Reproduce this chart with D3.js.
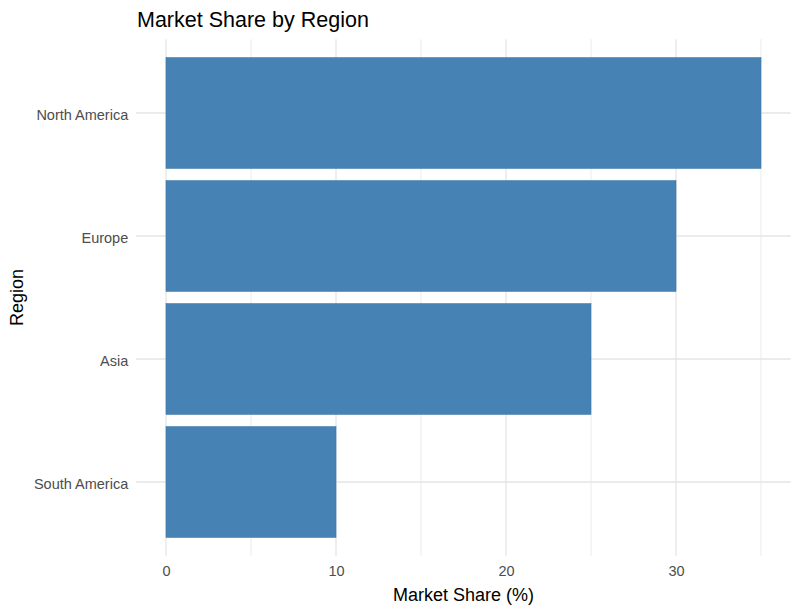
<!DOCTYPE html>
<html><head><meta charset="utf-8">
<script src="https://cdn.jsdelivr.net/npm/d3@7"></script>
<style>body{margin:0;background:#fff;font-family:"Liberation Sans",Arial,sans-serif;}</style>
</head><body><svg id="c" width="800" height="613"></svg>
<script>
const regions = ["North America", "Europe", "Asia", "South America"];
const shares = [35, 30, 25, 10];
const xTicks = [0, 10, 20, 30];
const xMinor = [5, 15, 25, 35];

const svg = d3.select("#c");
const L = 136.25, R = 790.75, T = 39.2, B = 555.8;
const x = d3.scaleLinear().domain([-1.75, 36.75]).range([L, R]);
const y = d3.scaleBand().domain(regions).range([T, B]).paddingInner(0.1).paddingOuter(0.15);

const grid = svg.append("g");
grid.selectAll(".mn").data(xMinor).join("line")
  .attr("x1", d => x(d)).attr("x2", d => x(d)).attr("y1", T).attr("y2", B)
  .attr("stroke", "#ebebeb").attr("stroke-width", 1);
grid.selectAll(".mj").data(xTicks).join("line")
  .attr("x1", d => x(d)).attr("x2", d => x(d)).attr("y1", T).attr("y2", B)
  .attr("stroke", "#e5e5e5").attr("stroke-width", 1.3);
grid.selectAll(".my").data(regions).join("line")
  .attr("x1", L).attr("x2", R)
  .attr("y1", d => y(d) + y.bandwidth() / 2).attr("y2", d => y(d) + y.bandwidth() / 2)
  .attr("stroke", "#e5e5e5").attr("stroke-width", 1.3);

svg.append("g").selectAll("rect").data(regions).join("rect")
  .attr("x", x(0)).attr("y", d => y(d))
  .attr("width", (d, i) => x(shares[i]) - x(0))
  .attr("height", y.bandwidth())
  .attr("fill", "#4682B4").attr("stroke", "#3d76aa").attr("stroke-width", 0.6);

const xAxis = svg.append("g").attr("transform", `translate(0,${B})`)
  .call(d3.axisBottom(x).tickValues(xTicks).tickSize(0).tickPadding(10));
xAxis.select(".domain").remove();
xAxis.selectAll("text").attr("font-size", 14.5).attr("fill", "#4d4d4d")
  .attr("font-family", "Liberation Sans, Arial, sans-serif");

const yAxis = svg.append("g").attr("transform", `translate(${L},0)`)
  .call(d3.axisLeft(y).tickSize(0).tickPadding(8));
yAxis.select(".domain").remove();
yAxis.selectAll("text").attr("font-size", 14.5).attr("fill", "#4d4d4d").attr("dy", "0.45em")
  .attr("font-family", "Liberation Sans, Arial, sans-serif");

svg.append("text").attr("x", 137).attr("y", 27).attr("font-size", 21.5)
  .attr("fill", "#000").text("Market Share by Region");
svg.append("text").attr("x", (L + R) / 2).attr("y", 601).attr("text-anchor", "middle")
  .attr("font-size", 18).attr("fill", "#000").text("Market Share (%)");
svg.append("text").attr("transform", `translate(23,${(T + B) / 2}) rotate(-90)`)
  .attr("text-anchor", "middle").attr("font-size", 18).attr("fill", "#000").text("Region");
</script></body></html>
